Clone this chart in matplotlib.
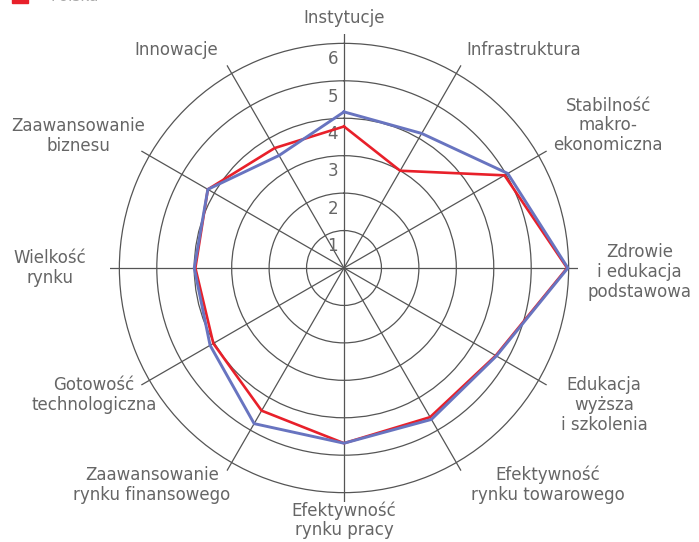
import numpy as np
import matplotlib
matplotlib.use("Agg")
import matplotlib.pyplot as plt
from matplotlib.patches import Rectangle

# pillars, clockwise from the top
labels = [
    "Instytucje",
    "Infrastruktura",
    "Stabilność\nmakro-\nekonomiczna",
    "Zdrowie\ni edukacja\npodstawowa",
    "Edukacja\nwyższa\ni szkolenia",
    "Efektywność\nrynku towarowego",
    "Efektywność\nrynku pracy",
    "Zaawansowanie\nrynku finansowego",
    "Gotowość\ntechnologiczna",
    "Wielkość\nrynku",
    "Zaawansowanie\nbiznesu",
    "Innowacje",
]
red_vals = [3.78, 3.0, 4.95, 5.96, 4.68, 4.6, 4.68, 4.4, 4.03, 3.97, 4.2, 3.7]
blue_vals = [4.17, 4.15, 5.05, 5.98, 4.7, 4.67, 4.68, 4.8, 4.13, 4.0, 4.2, 3.47]
rings = [1, 2, 3, 4, 5, 6]

# label placement around the chart: angle (deg) and radius
label_deg = [0, 39.5, 61.6, 90.8, 117.8, 136.8, 180, 221.5, 243, 270, 296.4, 322.5]
label_r = [6.68, 7.55, 8.02, 7.9, 7.85, 7.95, 6.74, 7.74, 7.49, 7.85, 7.93, 7.34]

grey = "#666666"
red = "#e8202a"
blue = "#6874c0"

plt.rcParams["font.family"] = ["DejaVu Sans"]

fig = plt.figure(figsize=(6.99, 5.42), dpi=100)
ax = fig.add_axes([110 / 699, 40 / 542, 468 / 699, 468 / 542], projection="polar")
ax.set_theta_zero_location("N")
ax.set_theta_direction(-1)

n = len(labels)
theta = np.arange(n) * 2 * np.pi / n

ax.set_ylim(0, 6.25)
ax.set_rgrids(rings, labels=[""] * len(rings))
ax.set_thetagrids(np.degrees(theta), labels=[""] * n)
ax.grid(True, color="#555555", lw=0.9)
ax.spines["polar"].set_visible(False)
ax.tick_params(length=0)
ax.set_facecolor("none")

for k in rings:
    ax.text(0, k - 0.42, str(k) + " ", ha="right", va="center", fontsize=12,
            color=grey, clip_on=False)

th = np.append(theta, theta[0])
ax.plot(th, red_vals + red_vals[:1], color=red, lw=1.9, zorder=4, clip_on=False)
ax.plot(th, blue_vals + blue_vals[:1], color=blue, lw=2.1, zorder=5, clip_on=False)

for d, lab, r in zip(label_deg, labels, label_r):
    ax.text(np.radians(d), r, lab, ha="center", va="center", fontsize=12,
            color=grey, linespacing=1.12, clip_on=False)

# legend cut off at the top edge
fig.add_artist(Rectangle((12 / 699, 1 - 3 / 542), 16 / 699, 10 / 542,
                         transform=fig.transFigure, color=red))
fig.text(50 / 699, 1 - 1 / 542, "Polska", fontsize=11, color="#aaaaaa",
         va="baseline")

fig.savefig("out.png", dpi=100, facecolor="white")
